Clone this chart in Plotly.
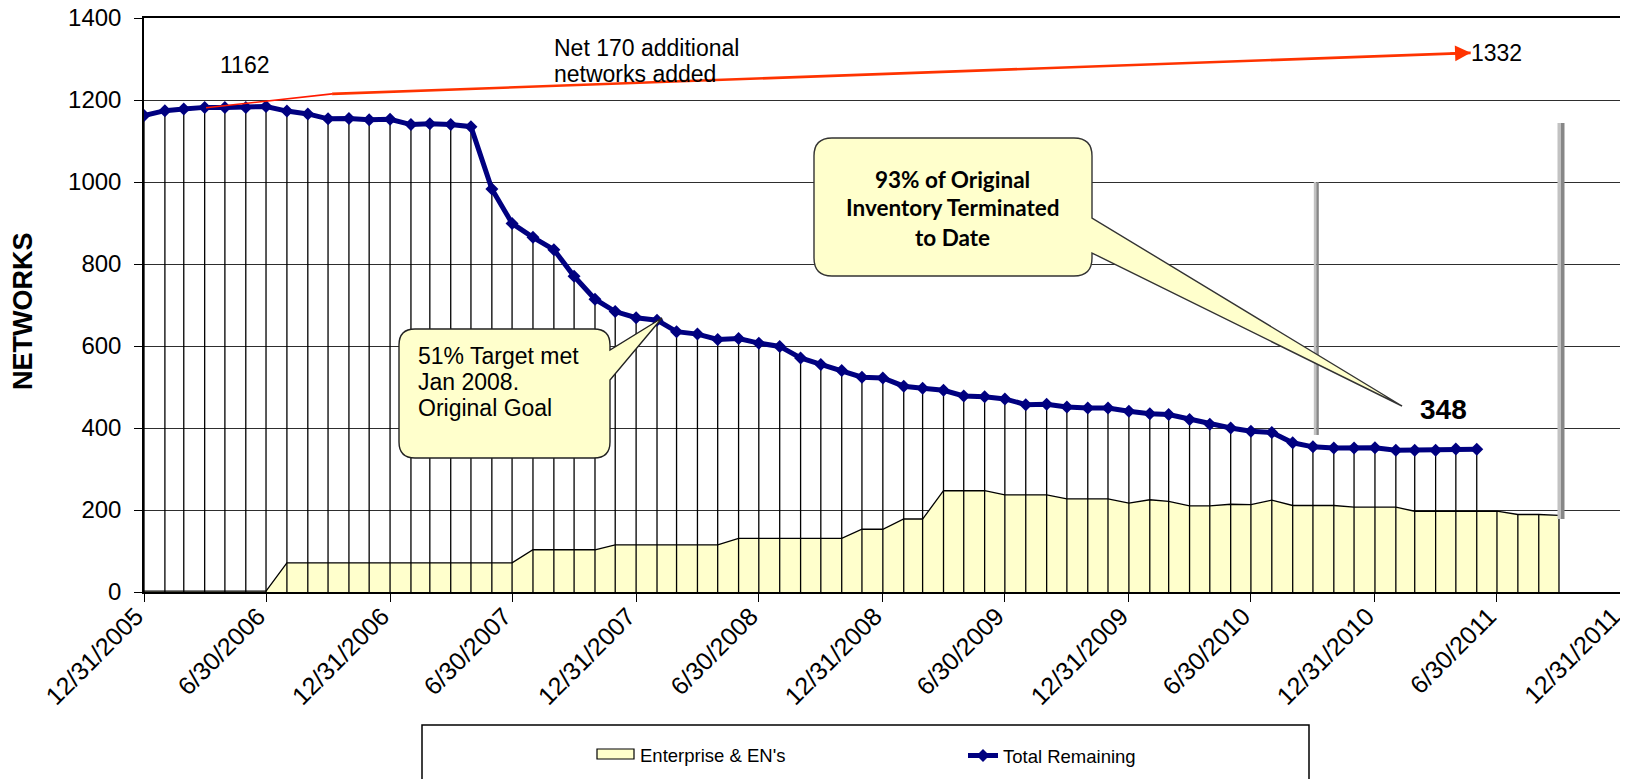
import calendar
import plotly.graph_objects as go

# ---------------- data ----------------
total_remaining = [1162, 1174, 1178, 1182, 1182, 1182, 1184, 1173, 1166, 1154, 1155, 1152,
                   1153, 1140, 1142, 1140, 1135, 983, 899, 865, 835, 770, 714, 684,
                   669, 663, 635, 629, 616, 618, 607, 599, 571, 555, 540, 524,
                   522, 502, 497, 492, 478, 476, 471, 457, 458, 451, 449, 449,
                   441, 435, 433, 421, 409, 400, 392, 389, 364, 354, 351, 351,
                   352, 346, 346, 346, 349, 348]
enterprise = [2, 2, 2, 2, 2, 2, 2, 71, 71, 71, 71, 71,
              71, 71, 71, 71, 71, 71, 71, 103, 103, 103, 103, 115,
              115, 115, 115, 115, 115, 131, 131, 131, 131, 131, 131, 153,
              153, 178, 178, 247, 247, 247, 237, 237, 237, 227, 227, 227,
              217, 225, 221, 210, 210, 214, 213, 224, 211, 211, 211, 207,
              207, 207, 197, 197, 197, 197, 197, 189, 189, 187]

tick_dates = ["2005-12-31", "2006-06-30", "2006-12-31", "2007-06-30", "2007-12-31",
              "2008-06-30", "2008-12-31", "2009-06-30", "2009-12-31", "2010-06-30",
              "2010-12-31", "2011-06-30", "2011-12-31"]
tick_labels = ["12/31/2005", "6/30/2006", "12/31/2006", "6/30/2007", "12/31/2007",
               "6/30/2008", "12/31/2008", "6/30/2009", "12/31/2009", "6/30/2010",
               "12/31/2010", "6/30/2011", "12/31/2011"]

# grey marker bars (date, bottom, top, width px)
bar_dates = ["2010-10-05", "2011-10-03"]
bar_bottoms = [383, 178]
bar_tops = [1000, 1144]
bar_widths = [5, 7]

# red "net added" arrow (date, value)
arrow_dates = ["2006-04-02", "2006-10-06", "2011-05-22"]
arrow_values = [1181, 1215, 1315]


def month_ends(year, month, n):
    out = []
    for _ in range(n):
        out.append(f"{year:04d}-{month:02d}-{calendar.monthrange(year, month)[1]:02d}")
        month += 1
        if month > 12:
            month, year = 1, year + 1
    return out


dates = month_ends(2005, 12, len(enterprise))

drop_x, drop_y = [], []
for i, d in enumerate(dates):
    top = enterprise[i]
    if i < len(total_remaining):
        top = max(top, total_remaining[i])
    drop_x += [d, d, None]
    drop_y += [0, top, None]

# ---------------- layout helpers (page pixel -> paper) ----------------
OFF = 8                      # default body margin of the html page
W, H = 1628 - OFF, 779 - OFF
PL, PR, PT, PB = 144, 1621, 18, 592   # plot area in page pixels


def px(x):
    return (x - PL) / (PR - PL)


def py(y):
    return (PB - y) / (PB - PT)


def callout_path(x0, y0, x1, y1, r, ya, tip, yb):
    def P(x, y):
        return f"{px(x):.5f},{py(y):.5f}"
    s = f"M {P(x0 + r, y0)} L {P(x1 - r, y0)} Q {P(x1, y0)} {P(x1, y0 + r)} "
    s += f"L {P(x1, ya)} L {P(tip[0], tip[1])} L {P(x1, yb)} "
    s += f"L {P(x1, y1 - r)} Q {P(x1, y1)} {P(x1 - r, y1)} L {P(x0 + r, y1)} "
    s += f"Q {P(x0, y1)} {P(x0, y1 - r)} L {P(x0, y0 + r)} Q {P(x0, y0)} {P(x0 + r, y0)} Z"
    return s


FONT = "Liberation Sans, Arial, sans-serif"
BOLDF = "Lato, Carlito, sans-serif"

fig = go.Figure()
fig.add_trace(go.Scatter(
    x=dates, y=enterprise, name="Enterprise & EN's", mode="lines",
    fill="tozeroy", fillcolor="#ffffcc", line=dict(color="black", width=1.3),
    showlegend=False, hoverinfo="skip"))
fig.add_trace(go.Scatter(
    x=drop_x, y=drop_y, mode="lines", line=dict(color="black", width=1.3),
    showlegend=False, hoverinfo="skip"))
fig.add_trace(go.Scatter(
    x=dates[:len(total_remaining)], y=total_remaining, name="Total Remaining",
    mode="lines+markers", line=dict(color="#000080", width=5),
    marker=dict(symbol="diamond", size=10, color="#000080"),
    showlegend=True))

shapes = []
for d, b0, b1, w in zip(bar_dates, bar_bottoms, bar_tops, bar_widths):
    half = w / 2
    shapes.append(dict(type="rect", xref="x", yref="y", xsizemode="pixel", xanchor=d,
                       x0=-half, x1=0, y0=b0, y1=b1, fillcolor="#c2c2c2",
                       line=dict(width=0), layer="above"))
    shapes.append(dict(type="rect", xref="x", yref="y", xsizemode="pixel", xanchor=d,
                       x0=0, x1=half, y0=b0, y1=b1, fillcolor="#878787",
                       line=dict(width=0), layer="above"))
shapes.append(dict(type="line", xref="x", yref="y", x0=arrow_dates[0], y0=arrow_values[0],
                   x1=arrow_dates[1], y1=arrow_values[1], line=dict(color="#ff1a00", width=1.6)))
shapes.append(dict(type="line", xref="x", yref="y", x0=arrow_dates[1], y0=arrow_values[1],
                   x1=arrow_dates[2], y1=arrow_values[2], line=dict(color="#ff3300", width=2.6)))
shapes.append(dict(type="path", xref="paper", yref="paper",
                   path=callout_path(399, 329, 610, 458, 16, 350, (662, 318), 380),
                   fillcolor="#ffffcc", line=dict(color="#222222", width=1.4), layer="above"))
shapes.append(dict(type="path", xref="paper", yref="paper",
                   path=callout_path(814, 138, 1092, 276, 18, 218, (1402, 406), 253),
                   fillcolor="#ffffcc", line=dict(color="#333333", width=1.4), layer="above"))
# legend frame and the area swatch
shapes.append(dict(type="rect", xref="paper", yref="paper", x0=px(422), x1=px(1309),
                   y0=py(725), y1=py(800), line=dict(color="black", width=1.5),
                   fillcolor="rgba(0,0,0,0)"))
shapes.append(dict(type="rect", xref="paper", yref="paper", x0=px(597), x1=px(634),
                   y0=py(759), y1=py(749), line=dict(color="black", width=1.2),
                   fillcolor="#ffffcc"))


def txt(x, y, s, size, xanchor="center", family=FONT, **kw):
    return dict(x=px(x), y=py(y), xref="paper", yref="paper", text=s, showarrow=False,
                xanchor=xanchor, yanchor="middle",
                font=dict(size=size, family=family, color="black"), **kw)


annotations = [
    dict(x=arrow_dates[2], y=arrow_values[2], xref="x", yref="y", text="", showarrow=True,
         ax=-22, ay=0.8, arrowhead=2, arrowsize=1.3, arrowwidth=2.4, arrowcolor="#ff3300",
         standoff=0),
    txt(244, 65, "1162", 23),
    txt(552, 48, "Net 170 additional", 23, "left"),
    txt(552, 74, "networks added", 23, "left"),
    txt(1469, 53, "1332", 23, "left"),
    txt(1443, 409, "<b>348</b>", 28),
    txt(416, 356, "51% Target met", 23, "left"),
    txt(416, 382, "Jan 2008.", 23, "left"),
    txt(416, 408, "Original Goal", 23, "left"),
    txt(953, 179, "<b>93% of Original</b>", 22.5, family=BOLDF),
    txt(953, 208, "<b>Inventory Terminated</b>", 22.5, family=BOLDF),
    txt(953, 238, "<b>to Date</b>", 22.5, family=BOLDF),
    txt(23, 311, "<b>NETWORKS</b>", 27, textangle=-90),
    txt(638, 756, "Enterprise & EN's", 18.5, "left"),
]

fig.update_layout(
    width=W, height=H,
    margin=dict(l=PL - OFF, r=W - (PR - OFF), t=PT - OFF, b=H - (PB - OFF), autoexpand=False),
    paper_bgcolor="white", plot_bgcolor="white",
    font=dict(family=FONT, color="black"),
    shapes=shapes, annotations=annotations,
    legend=dict(x=px(963), y=py(756), xanchor="left", yanchor="middle",
                font=dict(size=18.5, family=FONT, color="black"), bgcolor="rgba(0,0,0,0)"),
    xaxis=dict(type="date", range=[tick_dates[0], tick_dates[-1]], tickvals=tick_dates,
               ticktext=tick_labels, tickangle=-45, showgrid=False, zeroline=False,
               showline=True, linecolor="black", linewidth=1.5, mirror=True,
               ticks="outside", ticklen=8, tickwidth=1.3, tickcolor="black",
               ticklabeloverflow="allow", ticklabelshift=-8, ticklabelstandoff=-10,
               tickfont=dict(size=25, family=FONT, color="black"), automargin=False),
    yaxis=dict(range=[0, 1400], tickvals=list(range(0, 1401, 200)), showgrid=True,
               gridcolor="#2e2e2e", gridwidth=1.3, zeroline=False,
               showline=True, linecolor="black", linewidth=1.5, mirror=True,
               ticks="outside", ticklen=8, tickwidth=1.3, tickcolor="black",
               ticklabelstandoff=8, ticklabeloverflow="allow",
               tickfont=dict(size=24, family=FONT, color="black"), automargin=False),
    showlegend=True,
)

fig.write_html("out.html")
